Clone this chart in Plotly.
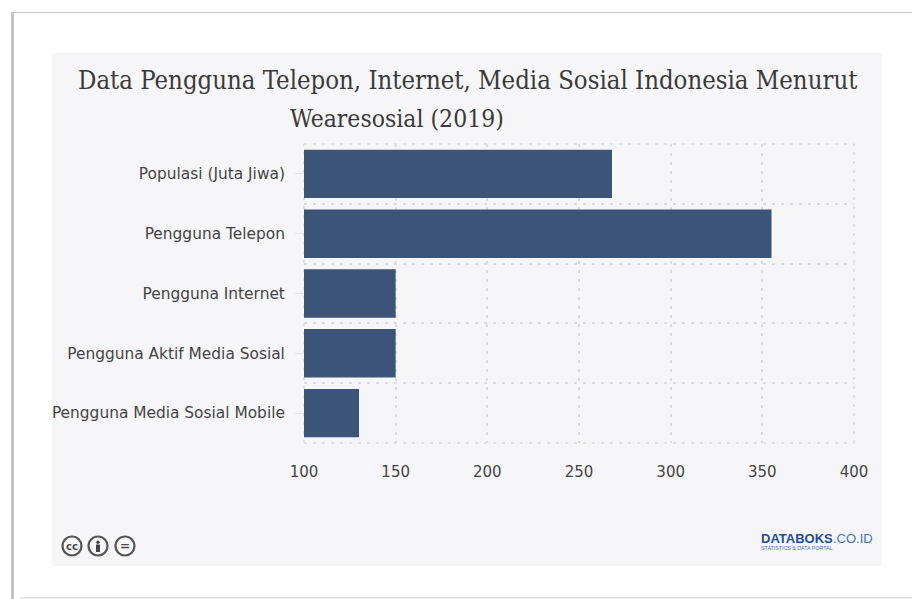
import plotly.graph_objects as go

categories = ["Populasi (Juta Jiwa)", "Pengguna Telepon", "Pengguna Internet",
              "Pengguna Aktif Media Sosial", "Pengguna Media Sosial Mobile"]
values = [268, 355, 150, 150, 130]
x_ticks = [100, 150, 200, 250, 300, 350, 400]

W, H = 912, 599
L, R, T, B = 304, 854, 144, 443
FRAME = "#c4c4c4"
TEXT = "#444444"
GRID = "#dcdcdc"
GRID_DASH = "3px,6px"
LABEL_FONT = "DejaVu Sans"
SERIF = "DejaVu Serif Condensed, DejaVu Serif, serif"


def px(x):
    return (x - L) / (R - L)


def py(y):
    return (B - y) / (B - T)


def box(x0, y0, x1, y1, **kw):
    return dict(type="rect", xref="paper", yref="paper", x0=px(x0), x1=px(x1),
                y0=py(y1), y1=py(y0), **kw)


def ring(cx, cy, r=9.5):
    return dict(type="circle", xref="paper", yref="paper", x0=px(cx - r), x1=px(cx + r),
                y0=py(cy + r), y1=py(cy - r), line=dict(color="#555555", width=2.2),
                fillcolor="rgba(0,0,0,0)", layer="above")


def edge(x0, y0, x1, y1):
    # plot-area border in the same dashed style as the grid
    return dict(type="line", xref="paper", yref="paper", x0=x0, y0=y0, x1=x1, y1=y1,
                line=dict(color=GRID, width=1.5, dash=GRID_DASH), layer="below")


def note(x, y, text, size, color=TEXT, family=LABEL_FONT, anchor="left"):
    return dict(xref="paper", yref="paper", x=px(x), y=py(y), text=text, showarrow=False,
                xanchor=anchor, yanchor="middle", font=dict(family=family, size=size, color=color))


fig = go.Figure(go.Bar(
    y=list(range(len(categories))), x=values, orientation="h", width=0.81,
    marker=dict(color="#3b5478", line=dict(width=0)),
))

shapes = [
    box(52, 53, 882, 566, fillcolor="#f6f6f9", line=dict(width=0), layer="below"),
    box(11, 12, 14, 599, fillcolor=FRAME, line=dict(width=0), layer="below"),
    box(11, 12, 912, 13, fillcolor=FRAME, line=dict(width=0), layer="below"),
    box(20, 597, 912, 599, fillcolor="#e6e6e6", line=dict(width=0), layer="below"),
    edge(0, 1, 1, 1), edge(0, 0, 1, 0), edge(0, 0, 0, 1), edge(1, 0, 1, 1),
    ring(72, 546), ring(98, 546), ring(125, 546),
    # figure in the attribution badge
    dict(type="circle", xref="paper", yref="paper", x0=px(96.3), x1=px(99.7),
         y0=py(544), y1=py(540.6), fillcolor="#444444", line=dict(width=0), layer="above"),
    box(96, 544.5, 100, 552, fillcolor="#444444", line=dict(width=0), layer="above"),
]

annotations = [
    note(468, 80, "Data Pengguna Telepon, Internet, Media Sosial Indonesia Menurut", 25.5,
         "#3a3a3a", SERIF, "center"),
    note(397, 118, "Wearesosial (2019)", 24.5, "#3a3a3a", SERIF, "center"),
    note(72, 546, "<b>cc</b>", 10, "#4a4a4a", LABEL_FONT, "center"),
    note(125, 545.5, "<b>=</b>", 12, "#4a4a4a", LABEL_FONT, "center"),
    note(759, 538.5, "<b>DATABOKS</b>", 13, "#1d4e93", "Liberation Sans"),
    note(831, 538.5, ".CO.ID", 13, "#3f73b5", "Liberation Sans"),
    note(759, 548, "STATISTICS &amp; DATA PORTAL", 5.3, "#3f73b5", "Liberation Sans"),
]

fig.update_layout(
    width=W, height=H, autosize=False,
    margin=dict(l=L, r=W - R, t=T, b=H - B),
    paper_bgcolor="white", plot_bgcolor="rgba(0,0,0,0)",
    bargap=0.19, showlegend=False, shapes=shapes, annotations=annotations,
    font=dict(family=LABEL_FONT, color=TEXT),
    xaxis=dict(
        range=[x_ticks[0], x_ticks[-1]], tickvals=x_ticks, side="bottom",
        showgrid=True, gridcolor=GRID, griddash=GRID_DASH, gridwidth=1.5,
        zeroline=False, showline=False, ticks="", ticklen=0, ticklabelstandoff=18,
        tickfont=dict(size=15, color=TEXT, family=LABEL_FONT),
    ),
    yaxis=dict(
        range=[len(categories) - 0.5, -0.5], tickvals=list(range(len(categories))),
        ticktext=categories, showgrid=False, zeroline=False, showline=False,
        ticks="outside", ticklen=8, tickcolor="#e4e4e4", tickwidth=1,
        ticklabelstandoff=7,
        tickfont=dict(size=15.4, color=TEXT, family=LABEL_FONT),
        minor=dict(tick0=0.5, dtick=1, showgrid=True, gridcolor=GRID,
                   griddash=GRID_DASH, gridwidth=1.5, ticks=""),
    ),
)

fig.write_html("out.html", config=dict(displayModeBar=False))
